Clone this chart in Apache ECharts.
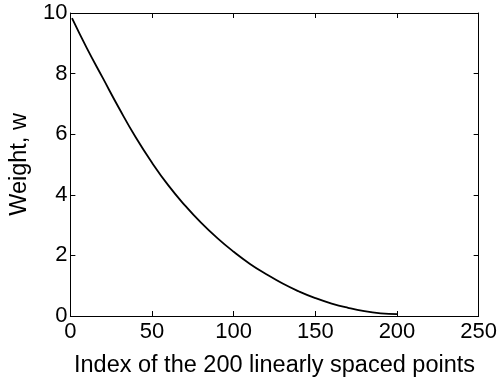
<!DOCTYPE html>
<html lang="en">
<head>
    <meta charset="UTF-8">
    <title>weights</title>
    <script src="https://cdn.jsdelivr.net/npm/echarts@6/dist/echarts.min.js"></script>
    <style>
        html, body { margin: 0; padding: 0; background: #fff; }
        #box { width: 500px; height: 383px; }
    </style>
</head>
<body>
    <div id="box"></div>
    <script>
        // values
        var pointIndex = [1, 10, 20, 30, 40, 50, 60, 70, 80, 90, 100,
                          110, 120, 130, 140, 150, 160, 170, 180, 190, 200];
        var weight = [9.83, 8.85, 7.84, 6.84, 5.90, 5.06, 4.31, 3.66, 3.08, 2.57, 2.12,
                      1.72, 1.38, 1.07, 0.81, 0.59, 0.41, 0.27, 0.16, 0.09, 0.06];

        var xTicks = [0, 50, 100, 150, 200, 250];
        var yTicks = [0, 2, 4, 6, 8, 10];

        var font = 'Liberation Sans, Arial, Helvetica, sans-serif';
        var axisCommon = {
            axisLine: { show: true, onZero: false, lineStyle: { color: '#000', width: 1 } },
            axisTick: { show: true, inside: true, length: 5, lineStyle: { color: '#000' } },
            splitLine: { show: false }
        };

        var myChart = echarts.init(document.getElementById('box'));
        var option = {
            backgroundColor: '#fff',
            animation: false,
            grid: { left: 69, right: 21, top: 13, bottom: 57, containLabel: false },
            xAxis: [
                Object.assign({
                    type: 'value', position: 'bottom',
                    min: xTicks[0], max: xTicks[xTicks.length - 1], interval: 50,
                    name: 'Index of the 200 linearly spaced points',
                    nameLocation: 'middle', nameGap: 38,
                    nameTextStyle: { color: '#000', fontSize: 23.5, fontFamily: font },
                    axisLabel: { color: '#000', fontSize: 22, fontFamily: font, margin: 5 }
                }, axisCommon),
                Object.assign({
                    type: 'value', position: 'top',
                    min: xTicks[0], max: xTicks[xTicks.length - 1], interval: 50,
                    axisLabel: { show: false }
                }, axisCommon)
            ],
            yAxis: [
                Object.assign({
                    type: 'value', position: 'left',
                    min: yTicks[0], max: yTicks[yTicks.length - 1], interval: 2,
                    name: 'Weight, w',
                    nameLocation: 'middle', nameGap: 30, nameRotate: 90,
                    nameTextStyle: { color: '#000', fontSize: 23.5, fontFamily: font },
                    axisLabel: { color: '#000', fontSize: 22, fontFamily: font, margin: 3 }
                }, axisCommon),
                Object.assign({
                    type: 'value', position: 'right',
                    min: yTicks[0], max: yTicks[yTicks.length - 1], interval: 2,
                    axisLabel: { show: false }
                }, axisCommon)
            ],
            series: [
                {
                    type: 'line',
                    xAxisIndex: 0,
                    yAxisIndex: 0,
                    smooth: 0.5,
                    symbol: 'none',
                    lineStyle: { color: '#000', width: 1.8 },
                    data: pointIndex.map(function (x, i) { return [x, weight[i]]; })
                }
            ]
        };

        myChart.setOption(option);
    </script>
</body>
</html>
